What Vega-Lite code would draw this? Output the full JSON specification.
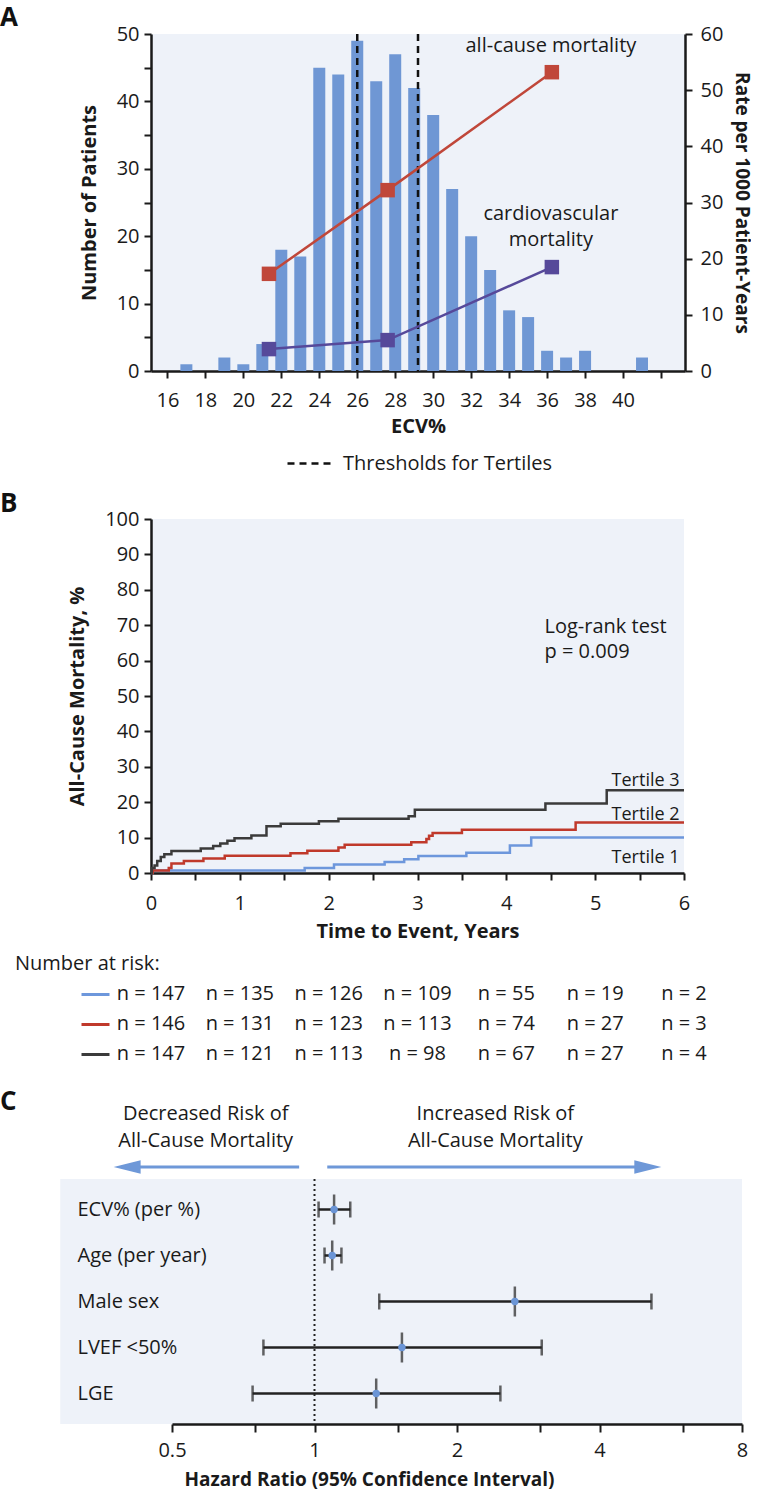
{
  "$schema": "https://vega.github.io/schema/vega-lite/v6.json",
  "padding": {"left": 0, "top": 5, "right": 0, "bottom": 0},
  "background": "white",
  "spacing": 13,
  "bounds": "full",
  "config": {
    "font": "Open Sans",
    "view": {"stroke": null},
    "axis": {"labelFont": "Open Sans", "titleFont": "Open Sans", "labelFontSize": 20, "titleFontSize": 20, "titleFontWeight": "bold", "labelColor": "#1a1a1a", "titleColor": "#1a1a1a", "domainColor": "#1a1a1a", "tickColor": "#1a1a1a", "domainWidth": 2.5, "tickWidth": 2, "tickSize": 7, "grid": false, "labelFlush": false, "labelOverlap": false, "labelPadding": 5, "titlePadding": 8},
    "title": {"font": "Open Sans", "fontSize": 26, "fontWeight": "bold", "anchor": "start", "color": "#111111", "frame": "group"},
    "text": {"font": "Open Sans", "fontSize": 20, "color": "#1a1a1a"}
  },
  "resolve": {"scale": {"color": "independent", "shape": "independent", "strokeDash": "independent"}},
  "vconcat": [
    {
      "width": 534,
      "height": 337,
      "title": {"text": "A", "dx": -151, "offset": -7},
      "view": {"fill": "#eef2f9"},
      "layer": [
        {
          "layer": [
            {
              "data": {"values": [
                {"ecv": 17, "patients": 1}, {"ecv": 19, "patients": 2}, {"ecv": 20, "patients": 1}, {"ecv": 21, "patients": 4},
                {"ecv": 22, "patients": 18}, {"ecv": 23, "patients": 17}, {"ecv": 24, "patients": 45}, {"ecv": 25, "patients": 44},
                {"ecv": 26, "patients": 49}, {"ecv": 27, "patients": 43}, {"ecv": 28, "patients": 47}, {"ecv": 29, "patients": 42},
                {"ecv": 30, "patients": 38}, {"ecv": 31, "patients": 27}, {"ecv": 32, "patients": 20}, {"ecv": 33, "patients": 15},
                {"ecv": 34, "patients": 9}, {"ecv": 35, "patients": 8}, {"ecv": 36, "patients": 3}, {"ecv": 37, "patients": 2},
                {"ecv": 38, "patients": 3}, {"ecv": 41, "patients": 2}
              ]},
              "mark": {"type": "bar", "size": 12, "color": "#6f97d4"},
              "encoding": {
                "x": {"field": "ecv", "type": "quantitative", "scale": {"domain": [15.4, 43], "nice": false, "zero": false},
                      "axis": {"values": [16, 18, 20, 22, 24, 26, 28, 30, 32, 34, 36, 38, 40, 42], "labelExpr": "datum.value === 42 ? '' : datum.label", "title": "ECV%", "labelPadding": 12, "titlePadding": 6, "labelOverlap": false}},
                "y": {"field": "patients", "type": "quantitative", "scale": {"domain": [0, 50], "nice": false},
                      "axis": {"values": [0, 5, 10, 15, 20, 25, 30, 35, 40, 45, 50], "labelExpr": "datum.value % 10 === 0 ? datum.label : ''", "title": "Number of Patients", "titlePadding": 17, "labelOverlap": false}}
              }
            },
            {
              "data": {"values": [{"ecv": 26.0, "kind": "Thresholds for Tertiles"}, {"ecv": 29.2, "kind": "Thresholds for Tertiles"}]},
              "mark": {"type": "rule", "color": "#111111", "strokeWidth": 2.5},
              "encoding": {
                "x": {"field": "ecv", "type": "quantitative"},
                "strokeDash": {"field": "kind", "type": "nominal", "scale": {"range": [[7, 5]]},
                  "legend": {"title": null, "orient": "none", "legendX": 131, "legendY": 402, "symbolType": "stroke", "symbolSize": 1936, "symbolStrokeWidth": 2.5, "symbolStrokeColor": "#111111", "labelFontSize": 20, "labelFont": "Open Sans", "labelColor": "#1a1a1a", "labelOffset": 10, "labelLimit": 400, "padding": 4}}
              }
            }
          ]
        },
        {
          "layer": [
            {
              "data": {"values": [
                {"ecv": 21.35, "rate": 17.3, "series": "all-cause"}, {"ecv": 27.6, "rate": 32.2, "series": "all-cause"}, {"ecv": 36.25, "rate": 53.2, "series": "all-cause"},
                {"ecv": 21.35, "rate": 3.9, "series": "cardiovascular"}, {"ecv": 27.6, "rate": 5.5, "series": "cardiovascular"}, {"ecv": 36.25, "rate": 18.5, "series": "cardiovascular"}
              ]},
              "mark": {"type": "line", "strokeWidth": 2.5, "point": {"shape": "square", "size": 210, "filled": true, "opacity": 1}},
              "encoding": {
                "x": {"field": "ecv", "type": "quantitative"},
                "y": {"field": "rate", "type": "quantitative", "scale": {"domain": [0, 60], "nice": false},
                      "axis": {"orient": "right", "values": [0, 5, 10, 15, 20, 25, 30, 35, 40, 45, 50, 55, 60], "labelExpr": "datum.value % 10 === 0 ? datum.label : ''", "title": "Rate per 1000 Patient-Years", "titleFontSize": 19, "labelPadding": 8, "titlePadding": 9, "labelOverlap": false}},
                "color": {"field": "series", "type": "nominal", "scale": {"domain": ["all-cause", "cardiovascular"], "range": ["#c0473a", "#56499a"]}, "legend": null}
              }
            },
            {
              "data": {"values": [
                {"ecv": 36.2, "rate": 57.9, "label": "all-cause mortality"},
                {"ecv": 36.2, "rate": 27.9, "label": "cardiovascular"},
                {"ecv": 36.2, "rate": 23.3, "label": "mortality"}
              ]},
              "mark": {"type": "text", "fontSize": 20},
              "encoding": {
                "x": {"field": "ecv", "type": "quantitative"},
                "y": {"field": "rate", "type": "quantitative"},
                "text": {"field": "label"}
              }
            }
          ]
        }
      ],
      "resolve": {"scale": {"y": "independent"}}
    },
    {
      "width": 533,
      "height": 354,
      "title": {"text": "B", "dx": -151, "offset": -8},
      "view": {"fill": "#eef2f9"},
      "encoding": {
        "x": {"field": "year", "type": "quantitative", "scale": {"domain": [0, 6], "nice": false},
              "axis": {"values": [0, 0.5, 1, 1.5, 2, 2.5, 3, 3.5, 4, 4.5, 5, 5.5, 6], "format": "~g", "labelExpr": "datum.value % 1 === 0 ? datum.label : ''", "title": "Time to Event, Years", "labelPadding": 13, "titlePadding": 8, "labelOverlap": false}},
        "y": {"field": "pct", "type": "quantitative", "scale": {"domain": [0, 100], "nice": false},
              "axis": {"values": [0, 10, 20, 30, 40, 50, 60, 70, 80, 90, 100], "tickCount": 11, "format": "d", "labelExpr": "datum.label", "title": "All-Cause Mortality, %", "titlePadding": 17, "labelOverlap": false}}
      },
      "layer": [
        {
          "data": {"values": [
            {"tertile": "Tertile 1", "year": 0, "pct": 0}, {"tertile": "Tertile 1", "year": 0.02, "pct": 0.7}, {"tertile": "Tertile 1", "year": 1.73, "pct": 1.4},
            {"tertile": "Tertile 1", "year": 2.06, "pct": 2.4}, {"tertile": "Tertile 1", "year": 2.63, "pct": 3.1}, {"tertile": "Tertile 1", "year": 2.85, "pct": 3.9},
            {"tertile": "Tertile 1", "year": 3.01, "pct": 4.8}, {"tertile": "Tertile 1", "year": 3.55, "pct": 5.7}, {"tertile": "Tertile 1", "year": 4.04, "pct": 7.8},
            {"tertile": "Tertile 1", "year": 4.28, "pct": 10.0}, {"tertile": "Tertile 1", "year": 6, "pct": 10.0},
            {"tertile": "Tertile 2", "year": 0, "pct": 0}, {"tertile": "Tertile 2", "year": 0.02, "pct": 0.7}, {"tertile": "Tertile 2", "year": 0.2, "pct": 1.4},
            {"tertile": "Tertile 2", "year": 0.23, "pct": 2.7}, {"tertile": "Tertile 2", "year": 0.37, "pct": 3.4}, {"tertile": "Tertile 2", "year": 0.59, "pct": 4.1},
            {"tertile": "Tertile 2", "year": 0.83, "pct": 4.9}, {"tertile": "Tertile 2", "year": 1.57, "pct": 5.6}, {"tertile": "Tertile 2", "year": 1.76, "pct": 6.3},
            {"tertile": "Tertile 2", "year": 2.11, "pct": 7.2}, {"tertile": "Tertile 2", "year": 2.18, "pct": 8.0}, {"tertile": "Tertile 2", "year": 2.93, "pct": 8.7},
            {"tertile": "Tertile 2", "year": 3.1, "pct": 9.6}, {"tertile": "Tertile 2", "year": 3.13, "pct": 10.5}, {"tertile": "Tertile 2", "year": 3.17, "pct": 11.3},
            {"tertile": "Tertile 2", "year": 3.5, "pct": 12.2}, {"tertile": "Tertile 2", "year": 4.78, "pct": 14.3}, {"tertile": "Tertile 2", "year": 6, "pct": 14.3},
            {"tertile": "Tertile 3", "year": 0, "pct": 0}, {"tertile": "Tertile 3", "year": 0.01, "pct": 1.4}, {"tertile": "Tertile 3", "year": 0.04, "pct": 2.1},
            {"tertile": "Tertile 3", "year": 0.07, "pct": 3.4}, {"tertile": "Tertile 3", "year": 0.11, "pct": 4.5}, {"tertile": "Tertile 3", "year": 0.15, "pct": 5.3},
            {"tertile": "Tertile 3", "year": 0.23, "pct": 6.2}, {"tertile": "Tertile 3", "year": 0.56, "pct": 6.9}, {"tertile": "Tertile 3", "year": 0.7, "pct": 7.6},
            {"tertile": "Tertile 3", "year": 0.78, "pct": 8.3}, {"tertile": "Tertile 3", "year": 0.86, "pct": 9.1}, {"tertile": "Tertile 3", "year": 0.94, "pct": 9.8},
            {"tertile": "Tertile 3", "year": 1.13, "pct": 10.6}, {"tertile": "Tertile 3", "year": 1.3, "pct": 13.2}, {"tertile": "Tertile 3", "year": 1.46, "pct": 13.9},
            {"tertile": "Tertile 3", "year": 1.89, "pct": 14.6}, {"tertile": "Tertile 3", "year": 2.11, "pct": 15.3}, {"tertile": "Tertile 3", "year": 2.9, "pct": 16.0},
            {"tertile": "Tertile 3", "year": 2.97, "pct": 17.9}, {"tertile": "Tertile 3", "year": 4.44, "pct": 19.6}, {"tertile": "Tertile 3", "year": 5.13, "pct": 23.4},
            {"tertile": "Tertile 3", "year": 6, "pct": 23.4}
          ]},
          "mark": {"type": "line", "interpolate": "step-after", "strokeWidth": 2.5},
          "encoding": {
            "color": {"field": "tertile", "type": "nominal", "scale": {"domain": ["Tertile 1", "Tertile 2", "Tertile 3"], "range": ["#6d97dc", "#c0392b", "#3b3b3b"]}, "legend": null}
          }
        },
        {
          "data": {"values": [
            {"year": 5.95, "pct": 26.0, "label": "Tertile 3"},
            {"year": 5.95, "pct": 16.3, "label": "Tertile 2"},
            {"year": 5.95, "pct": 4.2, "label": "Tertile 1"}
          ]},
          "mark": {"type": "text", "align": "right", "fontSize": 18},
          "encoding": {"text": {"field": "label"}}
        },
        {
          "data": {"values": [
            {"year": 4.43, "pct": 69.6, "label": "Log-rank test"},
            {"year": 4.43, "pct": 62.5, "label": "p = 0.009"}
          ]},
          "mark": {"type": "text", "align": "left", "fontSize": 20},
          "encoding": {"text": {"field": "label"}}
        }
      ]
    },
    {
      "width": 533,
      "height": 97,
      "title": {"text": "Number at risk:", "dx": -136, "fontSize": 20, "fontWeight": "normal", "color": "#1a1a1a", "offset": 5},
      "data": {"values": [
        {"tertile": "Tertile 1", "year": 0, "n": "n = 147"}, {"tertile": "Tertile 1", "year": 1, "n": "n = 135"}, {"tertile": "Tertile 1", "year": 2, "n": "n = 126"},
        {"tertile": "Tertile 1", "year": 3, "n": "n = 109"}, {"tertile": "Tertile 1", "year": 4, "n": "n = 55"}, {"tertile": "Tertile 1", "year": 5, "n": "n = 19"},
        {"tertile": "Tertile 1", "year": 6, "n": "n = 2"},
        {"tertile": "Tertile 2", "year": 0, "n": "n = 146"}, {"tertile": "Tertile 2", "year": 1, "n": "n = 131"}, {"tertile": "Tertile 2", "year": 2, "n": "n = 123"},
        {"tertile": "Tertile 2", "year": 3, "n": "n = 113"}, {"tertile": "Tertile 2", "year": 4, "n": "n = 74"}, {"tertile": "Tertile 2", "year": 5, "n": "n = 27"},
        {"tertile": "Tertile 2", "year": 6, "n": "n = 3"},
        {"tertile": "Tertile 3", "year": 0, "n": "n = 147"}, {"tertile": "Tertile 3", "year": 1, "n": "n = 121"}, {"tertile": "Tertile 3", "year": 2, "n": "n = 113"},
        {"tertile": "Tertile 3", "year": 3, "n": "n = 98"}, {"tertile": "Tertile 3", "year": 4, "n": "n = 67"}, {"tertile": "Tertile 3", "year": 5, "n": "n = 27"},
        {"tertile": "Tertile 3", "year": 6, "n": "n = 4"}
      ]},
      "mark": {"type": "text", "fontSize": 20},
      "encoding": {
        "x": {"field": "year", "type": "quantitative", "scale": {"domain": [0, 6], "nice": false}, "axis": null},
        "y": {"field": "tertile", "type": "nominal",
              "scale": {"type": "point", "domain": ["Tertile 1", "Tertile 2", "Tertile 3"], "padding": 0.617, "align": 0.405},
              "axis": {"title": null, "labels": false, "domain": false, "ticks": true, "tickSize": 28, "tickWidth": 3, "offset": 42,
                       "tickColor": {"condition": [{"test": "datum.value === 'Tertile 1'", "value": "#6d97dc"}, {"test": "datum.value === 'Tertile 2'", "value": "#c0392b"}], "value": "#3b3b3b"}}},
        "text": {"field": "n"}
      }
    },
    {
      "width": 591,
      "height": 245,
      "title": {"text": "C", "dx": -151, "offset": -11},
      "layer": [
        {
          "data": {"values": [{}]},
          "mark": {"type": "rect", "color": "#eef2f9"},
          "encoding": {
            "x": {"datum": 0.2903, "type": "quantitative", "scale": {"type": "log", "base": 2, "domain": [0.5, 8], "range": [21, 591]}},
            "x2": {"datum": 8}
          }
        },
        {
          "data": {"values": [{}]},
          "mark": {"type": "rule", "color": "#222222", "strokeWidth": 2, "strokeDash": [2, 3]},
          "encoding": {"x": {"datum": 1, "type": "quantitative"}}
        },
        {
          "data": {"values": [
            {"variable": "ECV% (per %)", "hr": 1.10, "lo": 1.02, "hi": 1.19},
            {"variable": "Age (per year)", "hr": 1.09, "lo": 1.05, "hi": 1.14},
            {"variable": "Male sex", "hr": 2.65, "lo": 1.37, "hi": 5.15},
            {"variable": "LVEF <50%", "hr": 1.53, "lo": 0.78, "hi": 3.02},
            {"variable": "LGE", "hr": 1.35, "lo": 0.74, "hi": 2.47}
          ]},
          "layer": [
            {
              "mark": {"type": "rule", "color": "#222222", "strokeWidth": 2.5},
              "encoding": {
                "x": {"field": "lo", "type": "quantitative", "scale": {"type": "log", "base": 2, "domain": [0.5, 8], "range": [21, 591]},
                      "axis": {"values": [0.5, 0.75, 1, 1.5, 2, 3, 4, 6, 8], "format": "~g", "labelExpr": "indexof([0.5, 1, 2, 4, 8], datum.value) >= 0 ? datum.label : ''", "tickSize": 8, "labelPadding": 8, "titlePadding": 10, "titleFontSize": 19, "title": "Hazard Ratio (95% Confidence Interval)", "titleX": 218, "titleAlign": "center", "zindex": 1, "labelOverlap": false}},
                "x2": {"field": "hi"},
                "y": {"field": "variable", "type": "nominal",
                      "scale": {"type": "point", "domain": ["ECV% (per %)", "Age (per year)", "Male sex", "LVEF <50%", "LGE"], "padding": 0.663},
                      "axis": {"title": null, "ticks": false, "tickSize": 0, "domain": false, "labelAlign": "left", "labelPadding": 74, "labelFontSize": 20, "labelFontWeight": "normal", "zindex": 1, "labelOverlap": false}}
              }
            },
            {
              "mark": {"type": "tick", "orient": "vertical", "size": 16, "thickness": 2.5, "color": "#222222"},
              "encoding": {"x": {"field": "lo", "type": "quantitative"}, "y": {"field": "variable", "type": "nominal"}}
            },
            {
              "mark": {"type": "tick", "orient": "vertical", "size": 16, "thickness": 2.5, "color": "#222222"},
              "encoding": {"x": {"field": "hi", "type": "quantitative"}, "y": {"field": "variable", "type": "nominal"}}
            },
            {
              "mark": {"type": "tick", "orient": "vertical", "size": 30, "thickness": 2.5, "color": "#222222"},
              "encoding": {"x": {"field": "hr", "type": "quantitative"}, "y": {"field": "variable", "type": "nominal"}}
            },
            {
              "mark": {"type": "circle", "size": 55, "color": "#6b95d6", "opacity": 1},
              "encoding": {"x": {"field": "hr", "type": "quantitative"}, "y": {"field": "variable", "type": "nominal"}}
            }
          ]
        },
        {
          "layer": [
            {
              "data": {"values": [
                {"hr": 0.589, "row": 1, "label": "Decreased Risk of"},
                {"hr": 0.589, "row": 2, "label": "All-Cause Mortality"},
                {"hr": 2.41, "row": 1, "label": "Increased Risk of"},
                {"hr": 2.41, "row": 2, "label": "All-Cause Mortality"}
              ]},
              "mark": {"type": "text", "fontSize": 20},
              "encoding": {
                "x": {"field": "hr", "type": "quantitative"},
                "y": {"field": "row", "type": "ordinal", "scale": {"type": "point", "domain": [1, 2, 3], "range": [-65, -12], "padding": 0}, "axis": null},
                "text": {"field": "label"}
              }
            },
            {
              "data": {"values": [
                {"from": 0.928, "to": 0.402, "row": 3},
                {"from": 1.064, "to": 5.06, "row": 3}
              ]},
              "mark": {"type": "rule", "color": "#6e98d8", "strokeWidth": 3},
              "encoding": {
                "x": {"field": "from", "type": "quantitative"},
                "x2": {"field": "to"},
                "y": {"field": "row", "type": "ordinal"}
              }
            },
            {
              "data": {"values": [
                {"hr": 0.402, "row": 3, "side": "left"},
                {"hr": 5.06, "row": 3, "side": "right"}
              ]},
              "mark": {"type": "point", "filled": true, "opacity": 1, "size": 729, "color": "#6e98d8", "strokeWidth": 0},
              "encoding": {
                "x": {"field": "hr", "type": "quantitative"},
                "y": {"field": "row", "type": "ordinal"},
                "shape": {"field": "side", "type": "nominal", "scale": {"domain": ["left", "right"], "range": ["M1,-0.5L-1,0L1,0.5Z", "M-1,-0.5L1,0L-1,0.5Z"]}, "legend": null}
              }
            }
          ]
        }
      ],
      "resolve": {"scale": {"y": "independent"}}
    }
  ]
}
